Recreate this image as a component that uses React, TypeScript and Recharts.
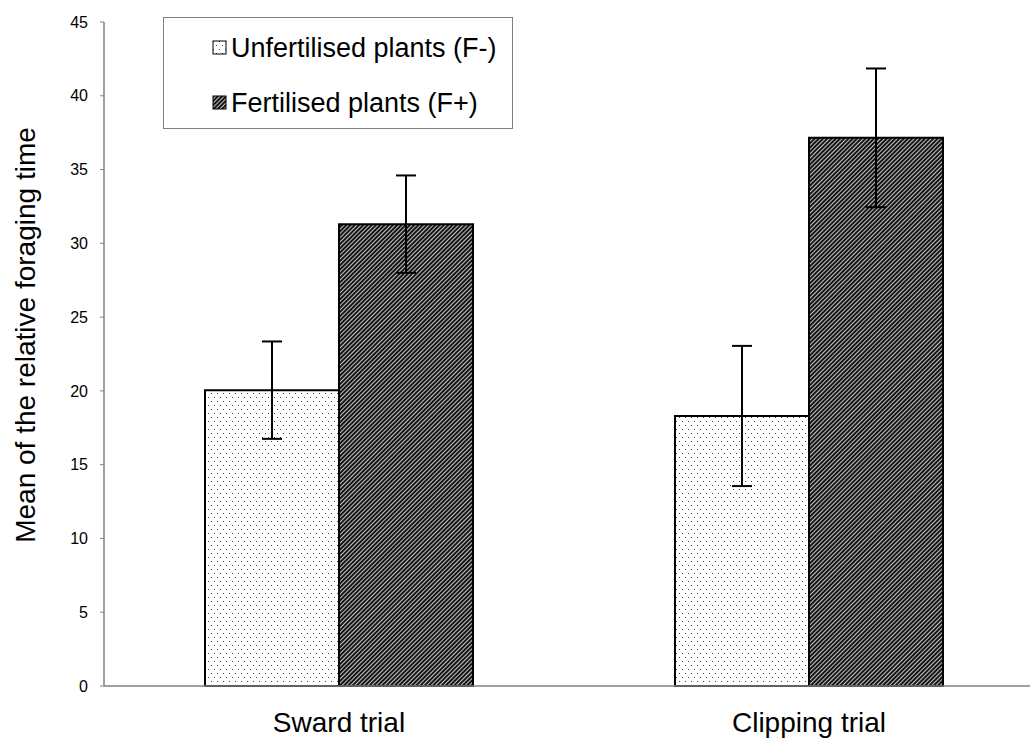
import React from "react";
import { BarChart, Bar, XAxis, YAxis, ErrorBar, Label } from "recharts";

const categories = ["Sward trial", "Clipping trial"];
const unfertilised = [20.05, 18.3];
const unfertilisedErr = [3.3, 4.75];
const fertilised = [31.3, 37.15];
const fertilisedErr = [3.3, 4.7];
const yTicks = [0, 5, 10, 15, 20, 25, 30, 35, 40, 45];

const seriesNames = ["Unfertilised plants (F-)", "Fertilised plants (F+)"];

const data = categories.map((name, i) => ({
  name,
  unfert: unfertilised[i],
  unfertErr: unfertilisedErr[i],
  fert: fertilised[i],
  fertErr: fertilisedErr[i],
}));

const FONT = '"Liberation Sans", Arial, sans-serif';

function Patterns() {
  return (
    <svg width={0} height={0} style={{ position: "absolute" }}>
      <defs>
        <pattern id="dots" width={6} height={8} patternUnits="userSpaceOnUse">
          <rect width={6} height={8} fill="#fff" />
          <rect x={1} y={1} width={1} height={1} fill="#444" />
          <rect x={4} y={5} width={1} height={1} fill="#444" />
        </pattern>
        <pattern
          id="hatch"
          width={3}
          height={3}
          patternUnits="userSpaceOnUse"
          patternTransform="rotate(45)"
        >
          <rect width={3} height={3} fill="#151515" />
          <line x1={0.5} y1={0} x2={0.5} y2={3} stroke="#d8d8d8" strokeWidth={0.9} />
        </pattern>
      </defs>
    </svg>
  );
}

// legend drawn outside recharts so it doesn't eat plot height
function LegendBox() {
  const fills = ["url(#dots)", "url(#hatch)"];
  return (
    <div
      style={{
        position: "absolute",
        left: 163,
        top: 17,
        width: 350,
        height: 112,
        boxSizing: "border-box",
        border: "1px solid #808080",
        background: "#fff",
        fontFamily: FONT,
        fontSize: 27,
        color: "#000",
        paddingLeft: 48,
      }}
    >
      {seriesNames.map((n, i) => (
        <div
          key={n}
          style={{ display: "flex", alignItems: "center", height: 30, marginTop: i === 0 ? 15 : 25 }}
        >
          <svg width={17} height={16} style={{ marginRight: 2 }}>
            <rect x={1} y={1} width={13} height={13} fill={fills[i]} stroke="#000" strokeWidth={1} />
          </svg>
          <span style={{ whiteSpace: "nowrap" }}>{n}</span>
        </div>
      ))}
    </div>
  );
}

export default function App() {
  return (
    <div style={{ position: "absolute", left: 0, top: 0, width: 1030, height: 740, overflow: "hidden", background: "#fff" }}>
      <Patterns />
      <BarChart
        width={1045}
        height={740}
        data={data}
        margin={{ top: 22, right: 1, bottom: 0, left: 0 }}
        barGap={0}
        barSize={134}
      >
        <XAxis
          dataKey="name"
          height={54}
          tickLine={false}
          tickSize={0}
          tickMargin={26}
          axisLine={{ stroke: "#808080", strokeWidth: 1.5 }}
          tick={{ fill: "#000", fontSize: 28, fontFamily: FONT }}
        />
        <YAxis
          width={104}
          domain={[0, 45]}
          ticks={yTicks}
          interval={0}
          tickSize={4}
          tickMargin={12}
          axisLine={{ stroke: "#808080", strokeWidth: 1.5 }}
          tickLine={{ stroke: "#808080" }}
          tick={{ fill: "#000", fontSize: 16, fontFamily: FONT }}
        >
          <Label
            content={({ viewBox }: any) => (
              <text
                x={viewBox.x + 25}
                y={viewBox.y + viewBox.height / 2 - 19}
                transform={`rotate(-90 ${viewBox.x + 25} ${viewBox.y + viewBox.height / 2 - 19})`}
                textAnchor="middle"
                dominantBaseline="central"
                fontSize={28}
                fontFamily={FONT}
                fill="#000"
              >
                Mean of the relative foraging time
              </text>
            )}
          />
        </YAxis>
        <Bar dataKey="unfert" name={seriesNames[0]} fill="url(#dots)" stroke="#000" strokeWidth={2} isAnimationActive={false}>
          <ErrorBar dataKey="unfertErr" width={10} stroke="#000" strokeWidth={2} isAnimationActive={false} />
        </Bar>
        <Bar dataKey="fert" name={seriesNames[1]} fill="url(#hatch)" stroke="#000" strokeWidth={2} isAnimationActive={false}>
          <ErrorBar dataKey="fertErr" width={10} stroke="#000" strokeWidth={2} isAnimationActive={false} />
        </Bar>
      </BarChart>
      <LegendBox />
    </div>
  );
}
